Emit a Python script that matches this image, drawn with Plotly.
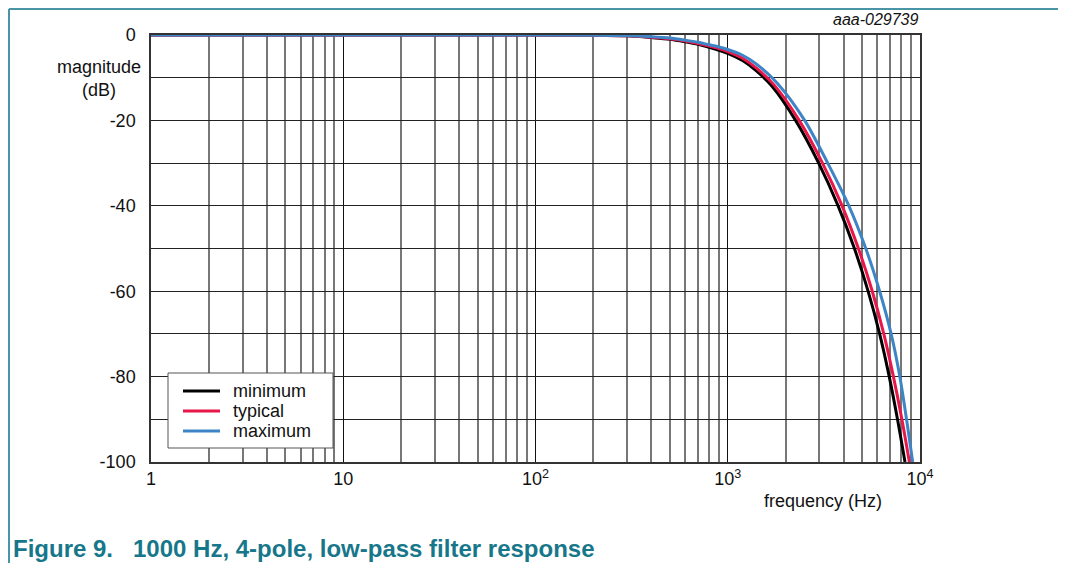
import plotly.graph_objects as go

# ---- data ----
freq_min = [1, 100, 200, 300, 400, 500, 600, 700, 800, 900, 1000, 1200, 1400, 1700, 2254, 2972, 3750, 4560, 5370, 6166, 6918, 7638, 8356]
db_min = [0, 0, -0.05, -0.2, -0.6, -1.0, -1.6, -2.2, -2.9, -3.6, -4.3, -6.05, -8.3, -12.0, -20, -30, -40, -50, -60, -70, -80, -90, -100]

freq_typ = [1, 100, 200, 300, 400, 500, 600, 700, 800, 900, 1000, 1200, 1400, 1750, 2353, 3109, 3933, 4783, 5646, 6482, 7273, 8049, 8805]
db_typ = [0, 0, -0.04, -0.17, -0.5, -0.9, -1.4, -2.0, -2.6, -3.2, -3.9, -5.5, -7.65, -11.8, -20, -30, -40, -50, -60, -70, -80, -90, -100]

freq_max = [1, 100, 200, 300, 400, 500, 600, 700, 800, 900, 1000, 1200, 1400, 1800, 2512, 3311, 4266, 5224, 6166, 7079, 7852, 8511, 9162]
db_max = [0, 0, -0.03, -0.14, -0.4, -0.7, -1.2, -1.7, -2.3, -2.8, -3.4, -4.8, -6.7, -11.2, -20, -30, -40, -50, -60, -70, -80, -90, -100]

series_names = ["minimum", "typical", "maximum"]
x_tick_vals = [1, 10, 100, 1000, 10000]
x_tick_text = ["1", "10", "10<sup>2</sup>", "10<sup>3</sup>", "10<sup>4</sup>"]
y_tick_vals = [0, -20, -40, -60, -80, -100]
y_tick_text = ["0", "-20", "-40", "-60", "-80", "-100"]
minor_x = [m * 10 ** d for d in range(4) for m in range(2, 10)]

# page has an 8px body margin; positions below are page pixels of the reference
OFF = 8
W, H = 1066 - OFF, 563 - OFF
L, R, T, B = 151, 920, 35, 462   # plot area in page pixels
FONT = "Liberation Sans, Arial, sans-serif"
FS = 18

def px(xp):
    return (xp - L) / (R - L)

def py(yp):
    return (B - yp) / (B - T)

colors = ["#000000", "#e8174a", "#3d85c6"]
fig = go.Figure()
for f, d, name, c in zip([freq_min, freq_typ, freq_max], [db_min, db_typ, db_max], series_names, colors):
    fig.add_trace(go.Scatter(x=f, y=d, mode="lines", name=name, showlegend=False,
                             line=dict(color=c, width=3, shape="spline", smoothing=0.8)))

fig.update_layout(
    width=W, height=H,
    margin=dict(l=L - OFF, r=W - (R - OFF), t=T - OFF, b=H - (B - OFF), pad=0),
    paper_bgcolor="white", plot_bgcolor="white",
    font=dict(family=FONT, size=FS, color="#111"),
    showlegend=False,
    xaxis=dict(type="log", range=[0, 4], tickvals=x_tick_vals, ticktext=x_tick_text,
               showgrid=True, gridcolor="#111", gridwidth=1.2,
               minor=dict(tickvals=minor_x, showgrid=True, gridcolor="#777", gridwidth=1.5, ticks=""),
               showline=True, linecolor="#333", linewidth=1.5, mirror=True,
               ticks="", tickfont=dict(size=FS), zeroline=False),
    yaxis=dict(range=[-100, 0], tickvals=y_tick_vals, ticktext=y_tick_text,
               showgrid=True, gridcolor="#222", gridwidth=1.2,
               minor=dict(dtick=10, showgrid=True, gridcolor="#222", gridwidth=1.2, ticks=""),
               showline=True, linecolor="#333", linewidth=1.5, mirror=True,
               ticks="", ticklabelstandoff=10, tickfont=dict(size=FS), zeroline=False),
)

annotations = [
    dict(text="magnitude<br>(dB)", x=px(99), y=py(78), xref="paper", yref="paper",
         showarrow=False, font=dict(size=FS, family=FONT), align="center", xanchor="center", yanchor="middle"),
    dict(text="frequency (Hz)", x=px(823), y=py(501), xref="paper", yref="paper",
         showarrow=False, font=dict(size=FS, family=FONT), xanchor="center", yanchor="middle"),
    dict(text="<i>aaa-029739</i>", x=px(921), y=py(20), xref="paper", yref="paper",
         showarrow=False, font=dict(size=16, family=FONT), xanchor="right", yanchor="middle"),
    dict(text="<b>Figure 9.&nbsp;&nbsp;&nbsp;1000 Hz, 4-pole, low-pass filter response</b>",
         x=px(11), y=py(548), xref="paper", yref="paper", showarrow=False,
         font=dict(size=24, family=FONT, color="#17778a"), xanchor="left", yanchor="middle"),
]

# custom legend (box, line samples, labels)
shapes = [dict(type="rect", xref="paper", yref="paper", x0=px(168), x1=px(333), y0=py(448), y1=py(373),
               fillcolor="white", line=dict(color="#555", width=1), layer="above")]
leg_rows = [391, 411, 431]
for name, c, yr in zip(series_names, colors, leg_rows):
    shapes.append(dict(type="line", xref="paper", yref="paper", x0=px(183), x1=px(220), y0=py(yr), y1=py(yr),
                       line=dict(color=c, width=3), layer="above"))
    annotations.append(dict(text=name, x=px(231), y=py(yr), xref="paper", yref="paper", showarrow=False,
                            font=dict(size=FS, family=FONT), xanchor="left", yanchor="middle"))

# figure frame (teal border)
frame_col = "#4a94a8"
for (x0, y0, x1, y1) in [(9, 9, 1063, 9), (9, 9, 9, 563), (1063, 9, 1063, 563)]:
    shapes.append(dict(type="line", xref="paper", yref="paper",
                       x0=px(x0), y0=py(y0), x1=px(x1), y1=py(y1),
                       line=dict(color=frame_col, width=2), layer="above"))

fig.update_layout(annotations=annotations, shapes=shapes)
fig.write_html("out.html")
